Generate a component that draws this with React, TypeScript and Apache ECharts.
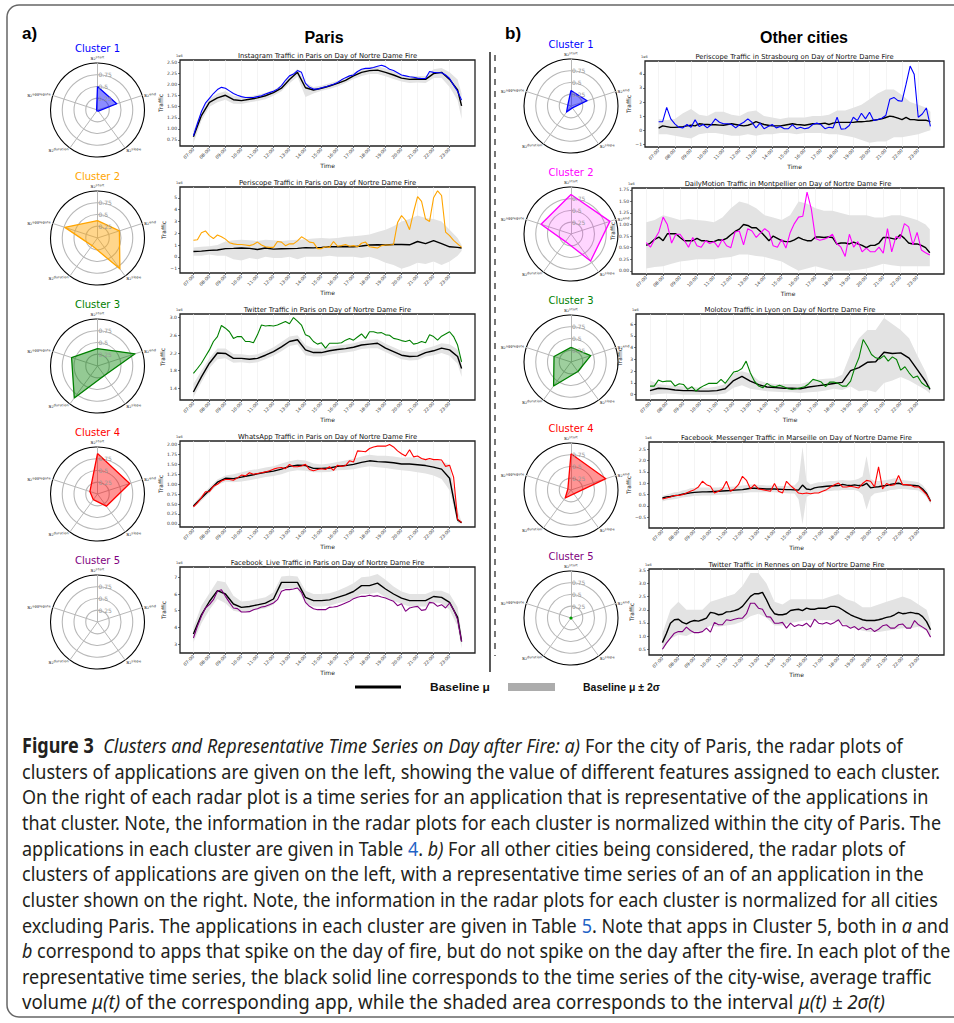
import React, { useEffect, useRef } from "react";
import * as echarts from "echarts";

// ---------- time handling: fine arrays = 15 min (68 pts, 07:00-23:45); coarse arrays = 30 min + 23:45 (35 pts)
const hourAt = (n: number, i: number) => (n >= 60 ? 7 + i * 0.25 : i < 34 ? 7 + i * 0.5 : 23.75);
const hourTicks = [7, 8, 9, 10, 11, 12, 13, 14, 15, 16, 17, 18, 19, 20, 21, 22, 23];

// ---------- radar features (order: start, end, slope, duration, aggregate)
const featureLabels = ["s₂ˢᵗᵃʳᵗ", "s₂ᵉⁿᵈ", "s₂ˢˡᵒᵖᵉ", "s₂ᵈᵘʳᵃᵗⁱᵒⁿ", "s₂ᵃᵍᵍʳᵉᵍᵃᵗᵉ"];
const radialTicks = [0.25, 0.5, 0.75];
const parisRadar = [
  [0.5, 0.43, 0.03, 0.02, 0.02],
  [0.37, 0.49, 0.81, 0.2, 0.73],
  [0.37, 0.84, 0.25, 0.84, 0.58],
  [0.86, 0.72, 0.32, 0.15, 0.17],
  [0, 0, 0, 0, 0],
];
const otherRadar = [
  [0.33, 0.36, 0.05, 0.16, 0.07],
  [0.84, 0.87, 0.71, 0.2, 0.67],
  [0.31, 0.44, 0.25, 0.63, 0.38],
  [0.77, 0.78, 0.1, 0.21, 0.07],
  [0, 0, 0, 0, 0],
];
const clusterNames = ["Cluster 1", "Cluster 2", "Cluster 3", "Cluster 4", "Cluster 5"];

// ---------- Paris: Instagram
const parisInstagramLine = [
  0.84, 1.12, 1.39, 1.58, 1.69, 1.8, 1.89, 1.94, 1.92, 1.86, 1.8, 1.76, 1.73, 1.71, 1.71, 1.71,
  1.73, 1.75, 1.79, 1.82, 1.85, 1.9, 1.98, 2.1, 2.2, 2.24, 2.32, 2.28, 2.03, 1.94, 1.9, 1.9,
  1.93, 1.95, 1.98, 2.01, 2.05, 2.11, 2.16, 2.2, 2.22, 2.3, 2.35, 2.37, 2.37, 2.39, 2.42, 2.44,
  2.41, 2.35, 2.32, 2.27, 2.22, 2.2, 2.18, 2.17, 2.15, 2.14, 2.14, 2.3, 2.28, 2.27, 2.27, 2.22,
  2.14, 1.99, 1.85, 1.65,
];
const parisInstagramMean = [
  0.82, 1.3, 1.6, 1.7, 1.76, 1.66, 1.64, 1.67, 1.7, 1.75,
  1.82, 1.92, 2.12, 2.28, 1.93, 1.88, 1.92, 1.97, 2.03, 2.1,
  2.2, 2.28, 2.32, 2.33, 2.28, 2.22, 2.15, 2.12, 2.13, 2.12,
  2.25, 2.28, 2.12, 1.88, 1.52,
];
const parisInstagramUpper = [
  0.95, 1.4, 1.68, 1.8, 1.85, 1.75, 1.72, 1.74, 1.77, 1.82,
  1.88, 1.98, 2.18, 2.36, 2.05, 1.95, 1.98, 2.03, 2.09, 2.16,
  2.27, 2.35, 2.4, 2.42, 2.37, 2.3, 2.22, 2.2, 2.2, 2.2,
  2.35, 2.38, 2.28, 2.12, 1.8,
];
const parisInstagramLower = [
  0.68, 1.18, 1.5, 1.6, 1.66, 1.57, 1.56, 1.6, 1.63, 1.67,
  1.75, 1.85, 2.03, 2.18, 1.72, 1.8, 1.86, 1.9, 1.96, 2.04,
  2.13, 2.2, 2.24, 2.24, 2.19, 2.13, 2.07, 2.04, 2.05, 2.04,
  2.15, 2.15, 1.95, 1.65, 1.22,
];

// ---------- Paris: Periscope
const parisPeriscopeLine = [
  1.4, 1.45, 2.05, 2.2, 1.8, 1.55, 1.85, 1.7, 1.5, 1.2, 1.1, 1.05, 1.05, 1.0, 0.95, 1.05,
  1.25, 1.0, 0.85, 0.8, 0.8, 1.3, 1.25, 0.95, 1.1, 1.1, 1.35, 1.7, 1.5, 1.25, 1.2, 0.7,
  0.7, 0.85, 0.8, 1.3, 0.9, 0.95, 1.05, 0.9, 0.95, 0.85, 1.15, 1.25, 0.85, 0.8, 0.75, 0.95,
  1.0, 1.0, 1.05, 2.9, 3.5, 3.1, 2.3, 3.8, 5.1, 4.7, 3.2, 3.0, 5.0, 5.6, 5.2, 2.1,
  1.8, 1.4, 1.1, 0.8,
];
const parisPeriscopeMean = [
  0.45, 0.48, 0.55, 0.58, 0.7, 0.72, 0.75, 0.72, 0.62, 0.75,
  0.65, 0.68, 0.7, 0.72, 0.78, 0.76, 0.8, 0.85, 0.85, 0.88,
  0.86, 0.92, 1.0, 1.02, 1.0, 1.05, 1.05, 1.02, 1.3, 1.12,
  1.38, 1.12, 0.85, 0.8, 0.75,
];
const parisPeriscopeUpper = [
  0.8, 0.85, 0.9, 1.0, 1.3, 1.4, 1.45, 1.4, 1.35, 1.45,
  1.4, 1.35, 1.4, 1.45, 1.5, 1.55, 1.6, 1.55, 1.6, 1.7,
  1.75, 1.8, 1.9, 2.1, 2.3, 2.6, 3.0, 3.2, 3.5, 3.3,
  3.2, 3.0, 2.3, 1.6, 1.0,
];
const parisPeriscopeLower = [
  0.1, 0.1, 0.2, 0.1, 0.1, -0.2, -0.3, -0.1, -0.2, 0.0,
  -0.1, -0.1, 0.0, -0.2, 0.0, 0.0, 0.0, 0.1, 0.0, 0.0,
  0.0, -0.1, 0.0, -0.2, -0.5, -0.7, -1.0, -0.8, -0.5, -0.6,
  -0.4, -0.7, -0.4, 0.1, 0.5,
];

// ---------- Paris: Twitter
const parisTwitterLine = [
  1.74, 1.85, 1.97, 2.12, 2.27, 2.46, 2.57, 2.82, 2.76, 2.68, 2.53, 2.57, 2.57, 2.46, 2.46, 2.43,
  2.61, 2.83, 2.81, 2.82, 2.81, 2.83, 2.87, 2.91, 2.86, 3.0, 2.92, 2.83, 2.61, 2.57, 2.46, 2.4,
  2.43, 2.31, 2.42, 2.42, 2.42, 2.43, 2.49, 2.53, 2.49, 2.56, 2.63, 2.53, 2.68, 2.68, 2.65, 2.66,
  2.61, 2.6, 2.53, 2.51, 2.48, 2.46, 2.49, 2.4, 2.42, 2.46, 2.43, 2.61, 2.57, 2.49, 2.58, 2.63,
  2.68, 2.57, 2.38, 2.0,
];
const parisTwitterMean = [
  1.32, 1.66, 1.97, 2.2, 2.19, 2.08, 2.08, 2.06, 2.08, 2.15,
  2.23, 2.34, 2.46, 2.5, 2.27, 2.21, 2.21, 2.25, 2.28, 2.3,
  2.33, 2.38, 2.4, 2.42, 2.31, 2.23, 2.15, 2.12, 2.13, 2.21,
  2.25, 2.31, 2.27, 2.12, 1.85,
];
const parisTwitterUpper = [
  1.5, 1.8, 2.08, 2.3, 2.3, 2.18, 2.17, 2.15, 2.17, 2.24,
  2.33, 2.45, 2.57, 2.6, 2.38, 2.31, 2.3, 2.34, 2.37, 2.39,
  2.42, 2.47, 2.5, 2.51, 2.41, 2.33, 2.25, 2.22, 2.23, 2.3,
  2.35, 2.42, 2.4, 2.28, 2.02,
];
const parisTwitterLower = [
  1.2, 1.54, 1.86, 2.06, 2.08, 1.98, 1.99, 1.97, 1.99, 2.06,
  2.14, 2.24, 2.36, 2.39, 2.15, 2.12, 2.12, 2.16, 2.19, 2.21,
  2.24, 2.29, 2.31, 2.31, 2.22, 2.14, 2.06, 2.03, 2.04, 2.12,
  2.15, 2.2, 2.14, 1.96, 1.66,
];

// ---------- Paris: WhatsApp
const parisWhatsAppLine = [
  0.43, 0.53, 0.66, 0.81, 0.81, 0.95, 1.0, 1.08, 1.12, 1.12, 1.1, 1.16, 1.23, 1.21, 1.29, 1.25,
  1.27, 1.29, 1.31, 1.34, 1.38, 1.41, 1.42, 1.39, 1.5, 1.44, 1.44, 1.46, 1.5, 1.37, 1.34, 1.37,
  1.39, 1.37, 1.44, 1.35, 1.48, 1.45, 1.47, 1.59, 1.56, 1.84, 1.83, 1.82, 1.9, 1.94, 1.96, 1.96,
  1.96, 2.0, 1.94, 1.84, 1.77, 1.71, 1.87, 1.69, 1.71, 1.65, 1.62, 1.65, 1.62, 1.62, 1.61, 1.45,
  1.48, 1.18, 0.12, 0.03,
];
const parisWhatsAppMean = [
  0.45, 0.65, 0.85, 1.05, 1.15, 1.14, 1.18, 1.22, 1.26, 1.3,
  1.33, 1.38, 1.45, 1.48, 1.47, 1.4, 1.4, 1.41, 1.45, 1.47,
  1.5, 1.55, 1.59, 1.57, 1.56, 1.54, 1.51, 1.51, 1.49, 1.47,
  1.43, 1.38, 1.15, 0.1, 0.03,
];
const parisWhatsAppUpper = [
  0.5, 0.72, 0.92, 1.12, 1.22, 1.25, 1.3, 1.35, 1.38, 1.42,
  1.45, 1.52, 1.58, 1.62, 1.6, 1.52, 1.5, 1.52, 1.56, 1.6,
  1.64, 1.7, 1.74, 1.72, 1.72, 1.7, 1.67, 1.68, 1.66, 1.63,
  1.6, 1.58, 1.5, 0.35, 0.05,
];
const parisWhatsAppLower = [
  0.4, 0.58, 0.78, 0.98, 1.06, 1.05, 1.07, 1.1, 1.14, 1.18,
  1.21, 1.25, 1.32, 1.35, 1.34, 1.3, 1.3, 1.31, 1.35, 1.36,
  1.38, 1.42, 1.45, 1.43, 1.41, 1.38, 1.35, 1.33, 1.3, 1.27,
  1.22, 1.13, 0.85, 0.02, 0.0,
];

// ---------- Paris: Facebook Live
const parisFacebookLiveLine = [
  3.36, 4.06, 4.66, 5.16, 5.36, 5.66, 6.16, 6.26, 5.86, 5.5, 5.16, 5.12, 4.92, 4.92, 4.94, 5.06,
  5.12, 5.22, 5.26, 5.36, 5.46, 5.66, 6.16, 6.26, 6.26, 6.3, 6.36, 6.1, 5.5, 5.26, 5.12, 5.06,
  5.06, 5.06, 5.2, 5.22, 5.26, 5.36, 5.46, 5.56, 5.72, 5.8, 5.86, 5.86, 5.92, 5.86, 5.9, 5.82,
  5.76, 5.66, 5.56, 5.3, 5.42, 4.96, 5.16, 5.22, 5.26, 5.02, 5.06, 5.5, 5.46, 5.26, 5.36, 5.16,
  5.46, 5.06, 4.46, 3.16,
];
const parisFacebookLiveMean = [
  3.6, 4.75, 5.55, 6.2, 6.0, 5.4, 5.2, 5.25, 5.35, 5.45,
  5.7, 6.7, 6.7, 6.7, 5.8, 5.6, 5.6, 5.65, 5.8, 5.95,
  6.15, 6.5, 6.5, 6.65, 6.3, 6.0, 5.75, 5.6, 5.6, 5.6,
  5.85, 5.8, 5.5, 4.6, 3.15,
];
const parisFacebookLiveUpper = [
  4.0, 5.3, 6.05, 6.8, 6.7, 5.9, 5.55, 5.6, 5.7, 5.8,
  6.1, 7.05, 7.1, 7.05, 6.2, 6.0, 6.0, 6.05, 6.2, 6.4,
  6.65, 7.0, 7.05, 7.2, 6.85, 6.45, 6.15, 6.0, 6.0, 6.0,
  6.2, 6.2, 6.0, 5.2, 3.6,
];
const parisFacebookLiveLower = [
  3.1, 4.25, 5.05, 5.7, 5.45, 5.0, 4.9, 4.95, 5.05, 5.15,
  5.35, 6.3, 6.35, 6.3, 5.45, 5.25, 5.25, 5.3, 5.45, 5.55,
  5.7, 6.0, 6.0, 6.1, 5.8, 5.6, 5.4, 5.25, 5.25, 5.25,
  5.5, 5.45, 5.05, 4.05, 2.75,
];

// ---------- Strasbourg: Periscope
const strasbourgPeriscopeLine = [
  0.6, 0.6, 1.62, 0.8, 0.45, 0.2, 0.16, 0.4, 0.2, 0.73, 0.26, 0.4, 0.16, 0.4, 0.8, 0.56,
  0.45, 0.45, 0.4, 0.16, 0.4, 0.56, 0.8, 0.56, 0.16, 0.5, 0.1, 0.26, 0.4, 0.16, 0.26, 0.1,
  0.1, 0.4, 0.1, 0.2, 0.1, 0.16, 0.4, 0.5, 0.4, 0.1, 0.2, 0.16, 0.92, 0.07, 0.1, 0.33,
  0.92, 0.68, 1.2, 0.8, 1.27, 0.68, 0.75, 0.85, 1.04, 2.2, 2.33, 2.1, 2.05, 3.27, 4.56, 3.98,
  0.92, 1.15, 1.58, 0.26,
];
const strasbourgPeriscopeMean = [
  0.15, 0.3, 0.25, 0.2, 0.2, 0.22, 0.25, 0.3, 0.35, 0.3, 0.45, 0.42, 0.4, 0.38, 0.38, 0.36,
  0.35, 0.4, 0.45, 0.4, 0.35, 0.3, 0.35, 0.45, 0.6, 0.5, 0.4, 0.35, 0.3, 0.3, 0.3, 0.35,
  0.4, 0.45, 0.4, 0.38, 0.35, 0.4, 0.45, 0.45, 0.45, 0.5, 0.4, 0.5, 0.55, 0.55, 0.55, 0.55,
  0.55, 0.6, 0.6, 0.62, 0.65, 0.7, 0.75, 0.8, 0.9, 1.0, 0.95, 0.85, 0.75, 0.9, 0.75, 0.75,
  0.7, 0.7, 0.7, 0.6,
];
const strasbourgPeriscopeUpper = [
  0.8, 0.7, 0.8, 1.2, 1.5, 1.1, 1.0, 1.3, 1.3, 1.1,
  1.0, 1.3, 1.4, 1.0, 0.9, 0.8, 0.9, 0.9, 0.9, 1.0,
  1.0, 1.1, 1.4, 1.4, 1.6, 1.8, 2.2, 2.6, 2.9, 2.9,
  2.5, 2.0, 1.8, 1.6, 1.3,
];
const strasbourgPeriscopeLower = [
  -0.3, -0.3, -0.4, -0.5, -0.6, -0.3, -0.2, -0.2, -0.3, -0.4,
  -0.4, -0.3, -0.4, -0.3, -0.3, -0.2, -0.2, -0.3, -0.2, -0.2,
  -0.2, -0.3, -0.3, -0.4, -0.5, -0.7, -0.9, -0.8, -0.8, -0.5,
  -0.5, -0.4, -0.3, -0.1, 0.0,
];

// ---------- Montpellier: DailyMotion
const montpellierDailyMotionLine = [
  0.61, 0.51, 0.68, 0.84, 1.16, 1.0, 0.6, 0.79, 0.79, 0.66, 0.51, 0.72, 0.54, 0.51, 0.65, 0.59,
  0.63, 0.51, 0.68, 0.54, 0.5, 0.84, 0.86, 0.56, 0.91, 0.86, 0.72, 0.82, 0.91, 0.84, 0.54, 0.51,
  0.68, 0.49, 0.82, 1.02, 1.16, 1.18, 1.7, 1.34, 0.7, 0.66, 0.68, 0.72, 0.79, 0.59, 0.51, 0.31,
  0.79, 0.51, 0.63, 0.41, 0.49, 0.41, 0.41, 0.51, 0.38, 0.91, 0.41, 0.74, 0.7, 1.02, 0.95, 0.56,
  0.83, 0.45, 0.39, 0.34,
];
const montpellierDailyMotionMean = [
  0.55, 0.6, 0.68, 0.73, 0.65, 0.8, 0.8, 0.8, 0.72, 0.65, 0.65, 0.65, 0.7, 0.65, 0.65, 0.63,
  0.63, 0.67, 0.66, 0.7, 0.78, 0.85, 0.9, 1.0, 0.98, 0.93, 0.93, 0.85, 0.75, 0.65, 0.75, 0.7,
  0.65, 0.63, 0.63, 0.67, 0.72, 0.68, 0.65, 0.65, 0.73, 0.73, 0.72, 0.73, 0.72, 0.58, 0.6, 0.6,
  0.58, 0.62, 0.58, 0.55, 0.5, 0.55, 0.55, 0.6, 0.72, 0.72, 0.7, 0.68, 0.78, 0.7, 0.6, 0.58,
  0.58, 0.55, 0.5, 0.39,
];
const montpellierDailyMotionUpper = [
  1.05, 1.1, 1.2, 1.15, 1.1, 1.12, 1.1, 1.08, 1.05, 1.15,
  1.35, 1.5, 1.45, 1.35, 1.2, 1.15, 1.1, 1.2, 1.5, 1.45,
  1.35, 1.3, 1.3, 1.25, 1.2, 1.2, 1.2, 1.15, 1.15, 1.2,
  1.2, 1.15, 1.1, 1.0, 0.9,
];
const montpellierDailyMotionLower = [
  0.05, 0.08, 0.1, 0.15, 0.2, 0.22, 0.25, 0.25, 0.25, 0.28,
  0.3, 0.35, 0.35, 0.32, 0.3, 0.25, 0.2, 0.1, 0.0, 0.05,
  0.1, 0.05, 0.0, 0.0, 0.0, 0.02, 0.05, 0.1, 0.15, 0.12,
  0.1, 0.1, 0.1, 0.1, 0.1,
];

// ---------- Lyon: Molotov
const lyonMolotovLine = [
  0.73, 0.73, 1.24, 1.1, 1.15, 1.15, 0.73, 0.93, 0.87, 0.45, 0.68, 0.31, 0.59, 0.79, 0.96, 0.96,
  0.96, 1.3, 0.96, 1.44, 1.92, 2.0, 2.23, 2.85, 1.86, 1.15, 0.73, 0.59, 0.96, 0.73, 0.68, 0.79,
  0.68, 0.5, 0.45, 0.5, 0.59, 0.68, 0.93, 1.3, 1.21, 1.07, 0.68, 1.07, 1.07, 0.96, 0.73, 0.73,
  1.15, 2.28, 3.13, 4.68, 4.11, 3.41, 3.13, 3.04, 3.32, 2.85, 3.21, 2.99, 2.08, 2.37, 1.86, 1.44,
  1.58, 1.01, 0.73, 0.59,
];
const lyonMolotovMean = [
  0.35, 0.55, 0.5, 0.4, 0.35, 0.35, 0.3, 0.3, 0.35, 0.5,
  1.2, 1.55, 1.15, 0.85, 0.65, 0.6, 0.55, 0.55, 0.5, 0.65,
  0.75, 0.85, 0.95, 1.05, 2.05, 2.3, 2.75, 2.8, 3.6, 3.5,
  3.55, 3.1, 2.1, 1.1, 0.45,
];
const lyonMolotovUpper = [
  1.2, 0.9, 0.8, 0.75, 0.7, 0.65, 0.6, 0.6, 0.7, 0.9,
  1.8, 2.0, 1.8, 1.2, 1.0, 0.9, 0.9, 0.9, 0.9, 1.1,
  1.3, 1.35, 1.4, 1.7, 3.5, 4.8, 5.5, 5.5, 6.5, 6.0,
  5.5, 4.8, 3.3, 1.9, 0.8,
];
const lyonMolotovLower = [
  -0.05, 0.05, 0.1, 0.05, 0.0, 0.0, 0.0, 0.0, 0.0, 0.1,
  0.6, 0.8, 0.5, 0.4, 0.3, 0.25, 0.2, 0.2, 0.15, 0.2,
  0.25, 0.35, 0.5, 0.4, 0.7, 0.3, 0.4, 0.2, 1.0, 1.2,
  1.5, 1.2, 0.8, 0.4, 0.1,
];

// ---------- Marseille: Facebook Messenger
const marseilleMessengerLine = [
  0.31, 0.35, 0.4, 0.46, 0.46, 0.5, 0.57, 0.65, 0.72, 0.84, 1.09, 0.94, 0.87, 0.57, 0.65, 0.75,
  1.09, 0.65, 0.75, 0.94, 1.31, 1.13, 0.75, 0.94, 0.75, 0.72, 0.68, 0.65, 0.99, 0.65, 0.57, 1.09,
  0.9, 0.75, 0.57, 0.54, 0.57, 0.54, 0.57, 0.57, 0.65, 0.72, 0.84, 0.94, 1.01, 0.84, 0.84, 0.87,
  0.84, 0.79, 0.99, 1.13, 1.09, 0.84, 1.72, 0.75, 0.99, 0.9, 0.94, 1.34, 0.94, 0.94, 0.91, 0.84,
  0.84, 0.69, 0.5, 0.21,
];
const marseilleMessengerMean = [
  0.35, 0.4, 0.42, 0.45, 0.48, 0.52, 0.55, 0.58, 0.6, 0.61, 0.62, 0.62, 0.63, 0.64, 0.65, 0.66,
  0.67, 0.68, 0.7, 0.71, 0.72, 0.75, 0.78, 0.78, 0.77, 0.76, 0.75, 0.75, 0.75, 0.74, 0.73, 0.72,
  0.72, 0.71, 0.7, 0.92, 0.75, 0.72, 0.8, 0.83, 0.85, 0.87, 0.88, 0.89, 0.9, 0.95, 0.92, 0.9,
  0.93, 0.9, 0.9, 1.0, 0.8, 0.83, 0.85, 0.88, 0.9, 0.95, 0.98, 1.0, 0.95, 0.93, 0.92, 0.9,
  0.88, 0.75, 0.55, 0.21,
];
const marseilleMessengerUpper = [
  0.45, 0.5, 0.55, 0.6, 0.62, 0.68, 0.72, 0.78, 0.8, 0.82, 0.82, 0.82, 0.82, 0.82, 0.82, 0.84,
  0.84, 0.85, 0.86, 0.88, 0.9, 0.92, 0.95, 0.95, 0.92, 0.92, 0.9, 0.9, 0.9, 0.88, 0.88, 0.88,
  0.9, 0.9, 1.1, 2.6, 1.1, 0.95, 1.0, 1.05, 1.05, 1.08, 1.1, 1.1, 1.12, 1.15, 1.12, 1.12,
  1.15, 1.2, 1.3, 2.2, 1.2, 1.1, 1.1, 1.12, 1.15, 1.18, 1.22, 1.2, 1.15, 1.12, 1.1, 1.08,
  1.05, 0.92, 0.7, 0.35,
];
const marseilleMessengerLower = [
  0.2, 0.25, 0.28, 0.3, 0.33, 0.37, 0.4, 0.42, 0.45, 0.45, 0.46, 0.46, 0.46, 0.47, 0.48, 0.5,
  0.5, 0.52, 0.55, 0.55, 0.56, 0.58, 0.6, 0.6, 0.6, 0.6, 0.6, 0.6, 0.6, 0.58, 0.58, 0.56,
  0.55, 0.55, 0.3, -0.8, 0.4, 0.5, 0.55, 0.58, 0.62, 0.65, 0.66, 0.68, 0.68, 0.7, 0.7, 0.7,
  0.7, 0.65, 0.5, -0.15, 0.4, 0.55, 0.58, 0.62, 0.65, 0.7, 0.72, 0.75, 0.75, 0.74, 0.72, 0.7,
  0.68, 0.55, 0.38, 0.08,
];

// ---------- Rennes: Twitter
const rennesTwitterLine = [
  0.5, 0.73, 0.92, 1.11, 1.17, 1.17, 1.34, 1.21, 1.13, 1.13, 1.17, 1.3, 1.15, 1.52, 1.43, 1.43,
  1.62, 1.59, 1.64, 1.68, 1.68, 1.85, 2.25, 2.25, 2.06, 2.02, 1.74, 1.72, 1.49, 1.49, 1.52, 1.3,
  1.49, 1.36, 1.43, 1.39, 1.49, 1.34, 1.64, 1.49, 1.46, 1.52, 1.45, 1.52, 1.62, 1.39, 1.39, 1.3,
  1.36, 1.24, 1.34, 1.24, 1.3, 1.17, 1.26, 1.39, 1.43, 1.3, 1.3, 1.43, 1.46, 1.3, 1.3, 1.59,
  1.43, 1.34, 1.24, 0.96,
];
const rennesTwitterMean = [
  0.75, 1.1, 1.49, 1.62, 1.64, 1.52, 1.46, 1.55, 1.59, 1.57, 1.62, 1.68, 1.9, 1.87, 1.81, 1.83,
  1.92, 1.93, 1.97, 2.02, 2.13, 2.32, 2.51, 2.61, 2.61, 2.66, 2.38, 2.06, 1.85, 1.81, 1.81, 1.85,
  1.97, 2.0, 2.02, 1.97, 2.06, 2.02, 2.02, 2.06, 2.06, 2.06, 2.13, 2.13, 2.09, 2.0, 1.9, 1.81,
  1.74, 1.68, 1.62, 1.59, 1.59, 1.59, 1.62, 1.66, 1.71, 1.74, 1.81, 1.9, 1.85, 1.87, 1.9, 1.87,
  1.85, 1.74, 1.55, 1.24,
];
const rennesTwitterUpper = [
  1.1, 2.0, 2.3, 2.0, 2.0, 2.0, 2.3, 2.4, 2.5, 2.6,
  2.9, 3.4, 3.4, 3.0, 2.3, 2.2, 2.4, 2.4, 2.4, 2.4,
  2.4, 2.5, 2.6, 2.4, 2.3, 2.1, 2.1, 2.2, 2.3, 2.4,
  2.5, 2.4, 2.2, 2.0, 1.5,
];
const rennesTwitterLower = [
  0.45, 0.9, 1.05, 1.0, 1.15, 1.2, 1.4, 1.35, 1.4, 1.45,
  1.55, 1.75, 1.85, 1.7, 1.4, 1.4, 1.5, 1.55, 1.6, 1.6,
  1.6, 1.6, 1.55, 1.4, 1.3, 1.2, 1.15, 1.15, 1.2, 1.25,
  1.3, 1.3, 1.35, 1.2, 1.0,
];

// ---------- y tick values
const ticksInstagram = [0.75, 1.0, 1.25, 1.5, 1.75, 2.0, 2.25, 2.5];
const ticksPeriscopeParis = [-1, 0, 1, 2, 3, 4, 5];
const ticksTwitterParis = [1.4, 1.8, 2.2, 2.6, 3.0];
const ticksWhatsApp = [0, 0.25, 0.5, 0.75, 1.0, 1.25, 1.5, 1.75, 2.0];
const ticksFacebookLive = [3, 4, 5, 6, 7];
const ticksStrasbourg = [-1, 0, 1, 2, 3, 4];
const ticksMontpellier = [0, 0.25, 0.5, 0.75, 1.0, 1.25, 1.5, 1.75];
const ticksLyon = [0, 1, 2, 3, 4, 5, 6];
const ticksMarseille = [-0.5, 0, 0.5, 1.0, 1.5, 2.0, 2.5];
const ticksRennes = [0.5, 1.0, 1.5, 2.0, 2.5, 3.0, 3.5];

const chartTitles = [
  "Instagram Traffic in Paris on Day of Nortre Dame Fire",
  "Periscope Traffic in Paris on Day of Nortre Dame Fire",
  "Twitter Traffic in Paris on Day of Nortre Dame Fire",
  "WhatsApp Traffic in Paris on Day of Nortre Dame Fire",
  "Facebook_Live Traffic in Paris on Day of Nortre Dame Fire",
  "Periscope Traffic in Strasbourg on Day of Nortre Dame Fire",
  "DailyMotion Traffic in Montpellier on Day of Nortre Dame Fire",
  "Molotov Traffic in Lyon on Day of Nortre Dame Fire",
  "Facebook_Messenger Traffic in Marseille on Day of Nortre Dame Fire",
  "Twitter Traffic in Rennes on Day of Nortre Dame Fire",
];

// ---------- caption
const captionLines: [string, string][][] = [
  [["b", "Figure 3"], ["r", "  "], ["i", "Clusters and Representative Time Series on Day after Fire: a)"], ["r", " For the city of Paris, the radar plots of"]],
  [["r", "clusters of applications are given on the left, showing the value of different features assigned to each cluster."]],
  [["r", "On the right of each radar plot is a time series for an application that is representative of the applications in"]],
  [["r", "that cluster. Note, the information in the radar plots for each cluster is normalized within the city of Paris. The"]],
  [["r", "applications in each cluster are given in Table "], ["l", "4"], ["r", ". "], ["i", "b)"], ["r", " For all other cities being considered, the radar plots of"]],
  [["r", "clusters of applications are given on the left, with a representative time series of an of an application in the"]],
  [["r", "cluster shown on the right. Note, the information in the radar plots for each cluster is normalized for all cities"]],
  [["r", "excluding Paris. The applications in each cluster are given in Table "], ["l", "5"], ["r", ". Note that apps in Cluster 5, both in "], ["i", "a"], ["r", " and"]],
  [["i", "b"], ["r", " correspond to apps that spike on the day of fire, but do not spike on the day after the fire. In each plot of the"]],
  [["r", "representative time series, the black solid line corresponds to the time series of the city-wise, average traffic"]],
  [["r", "volume "], ["i", "μ(t)"], ["r", " of the corresponding app, while the shaded area corresponds to the interval "], ["i", "μ(t) ± 2σ(t)"]],
];

// ---------- layout (positions / styles)
const PARIS_COLORS = ["#0000ff", "#ffa500", "#008000", "#ff0000", "#800080"];
const OTHER_COLORS = ["#0000ff", "#ff00ff", "#008000", "#ff0000", "#800080"];
const FILL_ALPHA = [0.45, 0.45, 0.42, 0.42, 0.42];
const OTHER_FILL_ALPHA = [0.45, 0.16, 0.38, 0.42, 0.42];
const BAND_FILL = "#e3e3e3";
const CHART_FONT = "DejaVu Sans";
const PARIS_GRID_TOPS = [60, 187, 314, 441, 567];
const OTHER_GRID_TOPS = [61, 188, 314, 442, 569];
const OTHER_GRID_LEFTS = [645, 632, 636, 649, 649];
const GRID_H = 86;
const PARIS_RADAR_CENTERS = [110, 238, 366, 494, 622];
const OTHER_RADAR_CENTERS = [106, 234, 362, 490, 618];
const RADAR_R = 47;
const CAPTION_ENDS = [903, 941, 929, 941, 905, 925, 938, 949, 951, 932, 885];

type Panel = {
  line: number[]; mean: number[]; upper: number[]; lower: number[];
  ticks: number[]; dec: number; yMin: number; yMax: number; color: string;
  left: number; top: number; width: number;
};

const panels: Panel[] = [
  { line: parisInstagramLine, mean: parisInstagramMean, upper: parisInstagramUpper, lower: parisInstagramLower, ticks: ticksInstagram, dec: 2, yMin: 0.61, yMax: 2.56, color: PARIS_COLORS[0], left: 180, top: PARIS_GRID_TOPS[0], width: 295 },
  { line: parisPeriscopeLine, mean: parisPeriscopeMean, upper: parisPeriscopeUpper, lower: parisPeriscopeLower, ticks: ticksPeriscopeParis, dec: 0, yMin: -1.37, yMax: 5.92, color: PARIS_COLORS[1], left: 180, top: PARIS_GRID_TOPS[1], width: 295 },
  { line: parisTwitterLine, mean: parisTwitterMean, upper: parisTwitterUpper, lower: parisTwitterLower, ticks: ticksTwitterParis, dec: 1, yMin: 1.14, yMax: 3.08, color: PARIS_COLORS[2], left: 180, top: PARIS_GRID_TOPS[2], width: 295 },
  { line: parisWhatsAppLine, mean: parisWhatsAppMean, upper: parisWhatsAppUpper, lower: parisWhatsAppLower, ticks: ticksWhatsApp, dec: 2, yMin: -0.08, yMax: 2.09, color: PARIS_COLORS[3], left: 180, top: PARIS_GRID_TOPS[3], width: 295 },
  { line: parisFacebookLiveLine, mean: parisFacebookLiveMean, upper: parisFacebookLiveUpper, lower: parisFacebookLiveLower, ticks: ticksFacebookLive, dec: 0, yMin: 2.46, yMax: 7.62, color: PARIS_COLORS[4], left: 180, top: PARIS_GRID_TOPS[4], width: 295 },
  { line: strasbourgPeriscopeLine, mean: strasbourgPeriscopeMean, upper: strasbourgPeriscopeUpper, lower: strasbourgPeriscopeLower, ticks: ticksStrasbourg, dec: 0, yMin: -1.2, yMax: 4.92, color: OTHER_COLORS[0], left: OTHER_GRID_LEFTS[0], top: OTHER_GRID_TOPS[0], width: 944 - OTHER_GRID_LEFTS[0] },
  { line: montpellierDailyMotionLine, mean: montpellierDailyMotionMean, upper: montpellierDailyMotionUpper, lower: montpellierDailyMotionLower, ticks: ticksMontpellier, dec: 2, yMin: -0.07, yMax: 1.79, color: OTHER_COLORS[1], left: OTHER_GRID_LEFTS[1], top: OTHER_GRID_TOPS[1], width: 944 - OTHER_GRID_LEFTS[1] },
  { line: lyonMolotovLine, mean: lyonMolotovMean, upper: lyonMolotovUpper, lower: lyonMolotovLower, ticks: ticksLyon, dec: 0, yMin: -0.45, yMax: 6.85, color: OTHER_COLORS[2], left: OTHER_GRID_LEFTS[2], top: OTHER_GRID_TOPS[2], width: 944 - OTHER_GRID_LEFTS[2] },
  { line: marseilleMessengerLine, mean: marseilleMessengerMean, upper: marseilleMessengerUpper, lower: marseilleMessengerLower, ticks: ticksMarseille, dec: 1, yMin: -0.97, yMax: 2.82, color: OTHER_COLORS[3], left: OTHER_GRID_LEFTS[3], top: OTHER_GRID_TOPS[3], width: 944 - OTHER_GRID_LEFTS[3] },
  { line: rennesTwitterLine, mean: rennesTwitterMean, upper: rennesTwitterUpper, lower: rennesTwitterLower, ticks: ticksRennes, dec: 1, yMin: 0.28, yMax: 3.55, color: OTHER_COLORS[4], left: OTHER_GRID_LEFTS[4], top: OTHER_GRID_TOPS[4], width: 944 - OTHER_GRID_LEFTS[4] },
];

const toPairs = (arr: number[]) => arr.map((v, i) => [hourAt(arr.length, i), v]);
const fmtHour = (h: number) => (h < 10 ? "0" + h : "" + h) + ":00";
const fmtTick = (v: number, d: number) => v.toFixed(d).replace("-", "\u2212");

// ECharts radar goes counter-clockwise from the top: start, aggregate, duration, slope, end
const RADAR_ORDER = [0, 4, 3, 2, 1];

function measureSeg(ctx: CanvasRenderingContext2D, text: string, kind: string, size: number, family: string) {
  ctx.font = `${kind === "i" ? "italic " : ""}${kind === "b" ? "bold " : ""}${size}px ${family}`;
  return ctx.measureText(text).width;
}

function fittedLine(ctx: CanvasRenderingContext2D, segs: [string, string][], x: number, y: number, targetW: number, size: number, family: string, color: string) {
  let off = 0;
  const children: any[] = [];
  segs.forEach(([kind, text]) => {
    const w = measureSeg(ctx, text, kind, size, family);
    children.push({
      type: "text", x: off, y: 0, silent: true,
      style: {
        text, fontSize: size, fontFamily: family,
        fontWeight: kind === "b" ? "bold" : "normal",
        fontStyle: kind === "i" ? "italic" : "normal",
        fill: kind === "l" ? "#1f63c6" : color,
        textAlign: "left", textVerticalAlign: "middle",
      },
    });
    off += w;
  });
  return { type: "group", x, y, scaleX: off > 0 ? targetW / off : 1, children };
}

function buildOption() {
  const canvas = document.createElement("canvas");
  const ctx = canvas.getContext("2d") as CanvasRenderingContext2D;

  const grid: any[] = [];
  const xAxis: any[] = [];
  const yAxis: any[] = [];
  const series: any[] = [];
  const graphic: any[] = [];

  panels.forEach((p, k) => {
    grid.push({ left: p.left, top: p.top, width: p.width, height: GRID_H, show: true, borderColor: "#222", borderWidth: 1.3, backgroundColor: "transparent", containLabel: false, outerBoundsMode: "none" });
    xAxis.push({
      type: "value", gridIndex: k, min: 6.1625, max: 24.5875,
      name: "Time", nameLocation: "middle", nameGap: 15,
      nameTextStyle: { fontSize: 6, color: "#222", fontFamily: CHART_FONT },
      axisLine: { show: false, onZero: false },
      axisTick: { show: true, length: 2, customValues: hourTicks, lineStyle: { color: "#222", width: 0.6 } },
      axisLabel: { customValues: hourTicks, formatter: (v: number) => fmtHour(Math.round(v)), rotate: 45, fontSize: 4.5, color: "#333", margin: 3, fontFamily: CHART_FONT },
      splitLine: { show: true, lineStyle: { color: "#ececec", width: 0.6 } },
    });
    yAxis.push({
      type: "value", gridIndex: k, min: p.yMin, max: p.yMax,
      name: "Traffic", nameLocation: "middle", nameGap: 14, nameRotate: 90,
      nameTextStyle: { fontSize: 6, color: "#222", fontFamily: CHART_FONT },
      axisLine: { show: false, onZero: false },
      axisTick: { show: true, length: 2, customValues: p.ticks, lineStyle: { color: "#222", width: 0.6 } },
      axisLabel: { customValues: p.ticks, formatter: (v: number) => fmtTick(v, p.dec), fontSize: 4.5, color: "#333", margin: 3, fontFamily: CHART_FONT },
      splitLine: { show: false },
    });
    const upper = p.upper;
    const lower = p.lower;
    series.push({
      type: "custom", xAxisIndex: k, yAxisIndex: k, silent: true, z: 1,
      data: upper.map((u, i) => [hourAt(upper.length, i), lower[i], u]),
      encode: { x: 0, y: [1, 2] },
      renderItem: (params: any, api: any) => {
        if (params.dataIndex !== 0) return { type: "group", children: [] };
        const pts: number[][] = [];
        for (let i = 0; i < upper.length; i++) pts.push(api.coord([hourAt(upper.length, i), upper[i]]));
        for (let i = lower.length - 1; i >= 0; i--) pts.push(api.coord([hourAt(lower.length, i), lower[i]]));
        return { type: "polygon", shape: { points: pts }, style: { fill: BAND_FILL }, silent: true };
      },
    });
    series.push({
      type: "line", xAxisIndex: k, yAxisIndex: k, data: toPairs(p.mean), symbol: "none", silent: true, z: 3,
      lineStyle: { color: "#000", width: 1.4 }, itemStyle: { color: "#000" },
    });
    series.push({
      type: "line", xAxisIndex: k, yAxisIndex: k, data: toPairs(p.line), symbol: "none", silent: true, z: 4,
      lineStyle: { color: p.color, width: 1.1 }, itemStyle: { color: p.color },
    });
    graphic.push({
      type: "text", x: p.left + p.width / 2, y: p.top - 4, silent: true,
      style: { text: chartTitles[k], fontSize: 6.8, fontFamily: CHART_FONT, fill: "#111", textAlign: "center", textVerticalAlign: "middle" },
    });
    graphic.push({
      type: "text", x: p.left - 4, y: p.top - 2, silent: true,
      style: { text: "1e6", fontSize: 3.5, fontFamily: CHART_FONT, fill: "#333", textAlign: "left", textVerticalAlign: "bottom" },
    });
  });

  // radars
  const radar: any[] = [];
  const radarSets = [
    { values: parisRadar, cx: 97.5, cys: PARIS_RADAR_CENTERS, colors: PARIS_COLORS, alpha: FILL_ALPHA, titleOff: 62 },
    { values: otherRadar, cx: 571, cys: OTHER_RADAR_CENTERS, colors: OTHER_COLORS, alpha: OTHER_FILL_ALPHA, titleOff: 62 },
  ];
  radarSets.forEach((set, s) => {
    set.values.forEach((vals, c) => {
      const ri = radar.length;
      const cy = set.cys[c];
      radar.push({
        center: [set.cx, cy], radius: RADAR_R, shape: "circle", splitNumber: 4, startAngle: 90,
        indicator: RADAR_ORDER.map((f) => ({ name: featureLabels[f], min: 0, max: 1 })),
        axisName: { color: "#222", fontSize: 5.5, fontFamily: CHART_FONT },
        nameGap: 2,
        splitLine: { lineStyle: { color: ["#b8b8b8", "#b8b8b8", "#b8b8b8", "#b8b8b8", "#000"], width: 1.1 } },
        splitArea: { show: false },
        axisLine: { lineStyle: { color: "#b8b8b8", width: 1 } },
        axisTick: { show: false }, axisLabel: { show: false },
      });
      const col = set.colors[c];
      const isDot = s === 1 && c === 4;
      series.push({
        type: "radar", radarIndex: ri, silent: true, z: 5,
        symbol: isDot ? "circle" : "none", symbolSize: 2.5,
        data: [{ value: RADAR_ORDER.map((f) => vals[f]) }],
        lineStyle: { color: col, width: 1.3 },
        itemStyle: { color: isDot ? "#00a000" : col },
        areaStyle: { color: col, opacity: set.alpha[c] },
      });
      graphic.push({
        type: "text", x: set.cx, y: cy - set.titleOff, silent: true,
        style: { text: clusterNames[c], fontSize: 10, fontFamily: CHART_FONT, fill: col, textAlign: "center", textVerticalAlign: "middle" },
      });
      radialTicks.forEach((t) => {
        graphic.push({
          type: "text", x: set.cx + 1, y: cy - RADAR_R * t, silent: true, z: 10,
          style: { text: String(t), fontSize: 6, fontFamily: CHART_FONT, fill: "#999", textAlign: "left", textVerticalAlign: "middle" },
        });
      });
    });
  });

  // frame, headers, separators
  graphic.push({ type: "rect", shape: { x: 7, y: 5, width: 1000, height: 1012, r: 12 }, style: { fill: "none", stroke: "#666", lineWidth: 1.5 }, silent: true, z: -1 });
  graphic.push({ type: "text", x: 22, y: 33, silent: true, style: { text: "a)", fontSize: 17, fontWeight: "bold", fontFamily: "Liberation Sans", fill: "#000", textVerticalAlign: "middle" } });
  graphic.push({ type: "text", x: 505, y: 33, silent: true, style: { text: "b)", fontSize: 17, fontWeight: "bold", fontFamily: "Liberation Sans", fill: "#000", textVerticalAlign: "middle" } });
  graphic.push({ type: "text", x: 324, y: 37, silent: true, style: { text: "Paris", fontSize: 16, fontWeight: "bold", fontFamily: "Liberation Sans", fill: "#000", textAlign: "center", textVerticalAlign: "middle" } });
  graphic.push({ type: "text", x: 804, y: 37, silent: true, style: { text: "Other cities", fontSize: 16, fontWeight: "bold", fontFamily: "Liberation Sans", fill: "#000", textAlign: "center", textVerticalAlign: "middle" } });
  graphic.push({ type: "line", shape: { x1: 490, y1: 52, x2: 490, y2: 672 }, style: { stroke: "#000", lineWidth: 1.3 }, silent: true });
  graphic.push({ type: "line", shape: { x1: 495, y1: 55, x2: 495, y2: 656 }, style: { stroke: "#777", lineWidth: 2, lineDash: [6, 6] }, silent: true });

  // legend
  graphic.push({ type: "line", shape: { x1: 355, y1: 687, x2: 401, y2: 687 }, style: { stroke: "#000", lineWidth: 3 }, silent: true });
  graphic.push({ type: "rect", shape: { x: 508, y: 683, width: 47, height: 8 }, style: { fill: "#acacac" }, silent: true });
  graphic.push(fittedLine(ctx, [["b", "Baseline μ"]], 430, 687, 60, 11, "Liberation Sans", "#111"));
  graphic.push(fittedLine(ctx, [["b", "Baseline μ ± 2σ"]], 583, 687, 77, 11, "Liberation Sans", "#111"));

  // caption
  captionLines.forEach((segs, i) => {
    graphic.push(fittedLine(ctx, segs, 22, 745 + i * 25.65, CAPTION_ENDS[i] - 22, 20.5, "Noto Sans", "#231f20"));
  });

  return {
    animation: false,
    backgroundColor: "#fff",
    textStyle: { fontFamily: CHART_FONT },
    grid, xAxis, yAxis, radar, series, graphic,
  };
}

export default function App() {
  const ref = useRef<HTMLDivElement>(null);
  useEffect(() => {
    if (!ref.current) return;
    const chart = echarts.init(ref.current, undefined, { renderer: "svg" });
    chart.setOption(buildOption() as any);
    return () => chart.dispose();
  }, []);
  return <div ref={ref} style={{ position: "absolute", left: 0, top: 0, width: 954, height: 1023, background: "#fff" }} />;
}
